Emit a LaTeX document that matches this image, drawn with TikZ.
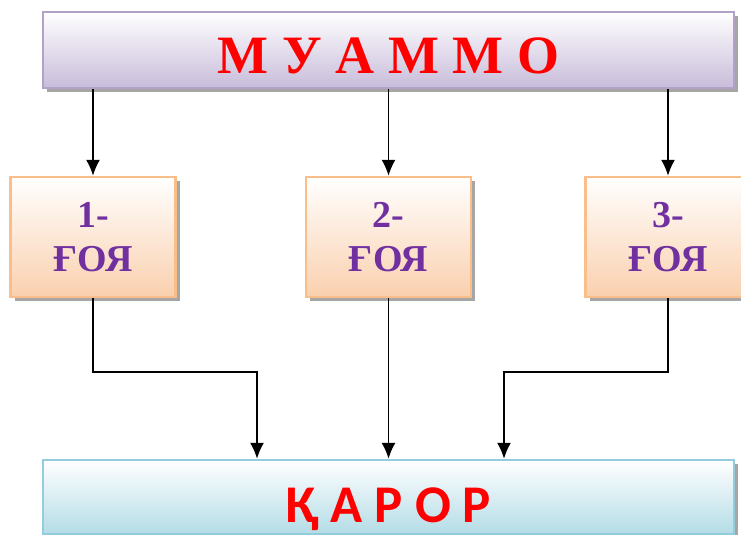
\documentclass[tikz,border=0pt]{standalone}
\usepackage{fontspec}
\setmainfont{Liberation Serif}
\newfontfamily\karorfont{Carlito}
\usetikzlibrary{arrows.meta, shadows}

\definecolor{muammoline}{HTML}{B3A2C7}
\definecolor{muammofill}{HTML}{C8BCDA}
\definecolor{idealine}{HTML}{F9BE8A}
\definecolor{ideafill}{HTML}{FAD0AE}
\definecolor{karorline}{HTML}{93CDDD}
\definecolor{karorfill}{HTML}{B4DCE6}
\definecolor{ideatext}{HTML}{7030A0}

\begin{document}
\begin{tikzpicture}[x=1pt, y=-1pt]

\tikzset{box/.style = {shape=rectangle, draw, line width=2.4pt, inner sep=0pt,
  drop shadow={shadow xshift=4pt, shadow yshift=-4pt, fill=black, opacity=.35}}}
\tikzset{topbox/.style = {box, draw=muammoline, top color=white, bottom color=muammofill,
  minimum width=691pt, minimum height=76pt, text=red,
  font=\bfseries\fontsize{54}{60}\selectfont, text height=48pt, text depth=0pt}}
\tikzset{ideabox/.style = {box, draw=idealine, top color=white, bottom color=ideafill,
  minimum width=165pt, minimum height=120pt, text=ideatext, align=center,
  font=\bfseries\fontsize{38}{44}\selectfont}}
\tikzset{bottombox/.style = {box, draw=karorline, top color=white, bottom color=karorfill,
  minimum width=691pt, minimum height=74pt, text=red,
  font=\karorfont\bfseries\fontsize{53}{60}\selectfont, text height=51pt, text depth=0pt}}
\tikzset{edge/.style = {-{Latex[length=16pt, width=14pt]}, line width=1.6pt}}

\useasboundingbox (0,0) rectangle (741,535);

%boxes
\node[topbox] (muammo) at (388.5,50) {М У А М М О};
\node[ideabox] (idea1) at (93,237) {1-\\ҒОЯ};
\node[ideabox] (idea2) at (388.5,237) {2-\\ҒОЯ};
\node[ideabox] (idea3) at (668,237) {3-\\ҒОЯ};
\node[bottombox] (karor) at (388.5,497) {Қ А Р О Р};

%edges
\draw [edge] (muammo.south -| idea1) -- (idea1.north);
\draw [edge] (muammo.south -| idea2) -- (idea2.north);
\draw [edge] (muammo.south -| idea3) -- (idea3.north);
\draw [edge] (idea1.south) -- ++(0,74) -| ([xshift=-131.5pt]karor.north);
\draw [edge] (idea2.south) -- (karor.north);
\draw [edge] (idea3.south) -- ++(0,74) -| ([xshift=115.5pt]karor.north);

\end{tikzpicture}
\end{document}
